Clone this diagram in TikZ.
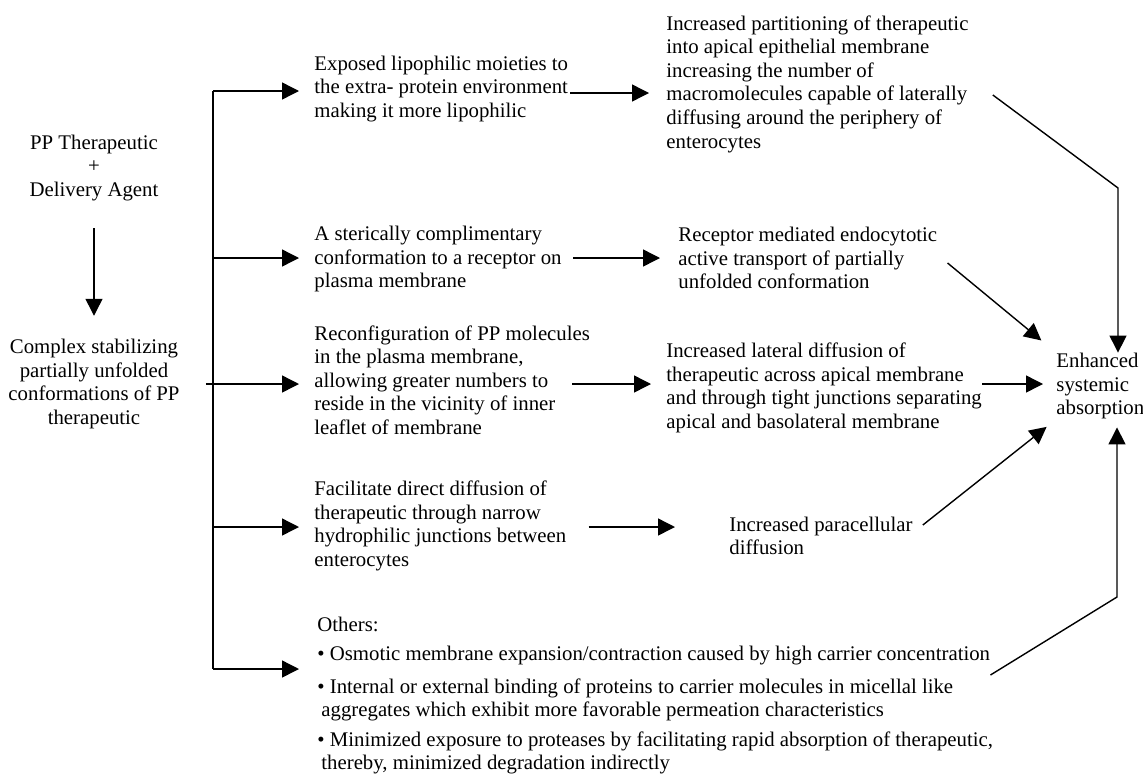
\documentclass[tikz,border=0pt]{standalone}
\usepackage{fontspec}
\setmainfont{Liberation Serif}
\usetikzlibrary{arrows.meta}

\begin{document}
\begin{tikzpicture}[x=0.5pt,y=0.5pt]
      \tikzstyle{every node}+=[inner sep=0pt, font=\fontsize{10.4}{11.8}\selectfont]
      \tikzstyle{txt}=[anchor=west, align=left]
      \tikzstyle{arr}=[black, line width=0.7pt, -{Triangle[length=8.5pt,width=8.5pt]}]
      \useasboundingbox (0,0) rectangle (1143,-776);
      % left column
      \node [align=center] (pp) at (94,-168) {PP Therapeutic\\+\\Delivery Agent};
      \node [align=center] (cx) at (94,-384) {Complex stabilizing\\partially unfolded\\conformations of PP\\therapeutic};
      \draw [arr, shorten <=13.5pt, shorten >=11.5pt] (pp.south) -- (cx.north);
      % trunk
      \coordinate (t1) at (213,-91);
      \coordinate (t2) at (213,-258);
      \coordinate (t3) at (213,-384);
      \coordinate (t4) at (213,-527);
      \coordinate (t5) at (213,-669);
      \draw [black, line width=0.7pt] (t1) -- (t5);
      % first step
      \node [txt] (lip) at (314,-89) {Exposed lipophilic moieties to\\the extra- protein environment\\making it more lipophilic};
      \node [txt] (rec) at (314,-259) {A sterically complimentary\\conformation to a receptor on\\plasma membrane};
      \node [txt] (conf) at (314,-380) {Reconfiguration of PP molecules\\in the plasma membrane,\\allowing greater numbers to\\reside in the vicinity of inner\\leaflet of membrane};
      \node [txt] (dif) at (314,-526) {Facilitate direct diffusion of\\therapeutic through narrow\\hydrophilic junctions between\\enterocytes};
      \node [txt] (oth) at (317,-624) {Others:};
      \node [txt] (osm) at (317,-656) {\textbullet\ Osmotic membrane expansion/contraction caused by high carrier concentration};
      \node [txt] (bind) at (317,-700) {\textbullet\ Internal or external binding of proteins to carrier molecules in micellal like\\\hspace{2pt}aggregates which exhibit more favorable permeation characteristics};
      \node [txt] (prot) at (317,-753) {\textbullet\ Minimized exposure to proteases by facilitating rapid absorption of therapeutic,\\\hspace{2pt}thereby, minimized degradation indirectly};
      \draw [arr, shorten >=7.5pt] (t1) -- (lip.west |- t1);
      \draw [arr, shorten >=7.5pt] (t2) -- (rec.west |- t2);
      \draw [arr, shorten <=13pt, shorten >=7.5pt] (cx.east |- t3) -- (conf.west |- t3);
      \draw [arr, shorten >=7.5pt] (t4) -- (dif.west |- t4);
      \draw [arr, shorten >=9pt] (t5) -- (osm.west |- t5);
      % second step
      \node [txt] (part) at (666,-84) {Increased partitioning of therapeutic\\into apical epithelial membrane\\increasing the number of\\macromolecules capable of laterally\\diffusing around the periphery of\\enterocytes};
      \node [txt] (endo) at (678,-258) {Receptor mediated endocytotic\\active transport of partially\\unfolded conformation};
      \node [txt] (lat) at (666,-388) {Increased lateral diffusion of\\therapeutic across apical membrane\\and through tight junctions separating\\apical and basolateral membrane};
      \node [txt] (para) at (729,-536) {Increased paracellular\\diffusion};
      \draw [arr, shorten <=1pt, shorten >=8.5pt] (lip.east |- 0,-93) -- (part.west |- 0,-93);
      \draw [arr, shorten <=5.5pt, shorten >=9pt] (rec.east |- t2) -- (endo.west |- t2);
      \draw [arr, shorten <=-9pt, shorten >=7.5pt] (conf.east |- t3) -- (lat.west |- t3);
      \draw [arr, shorten <=11pt, shorten >=27pt] (dif.east |- t4) -- (para.west |- t4);
      % result
      \node [txt] (abs) at (1056,-386) {Enhanced\\systemic\\absorption};
      \coordinate (c1) at (1118,-188);
      \coordinate (c2) at (1117,-597);
      \draw [arr] ([shift={(24,-11)}]part.east) -- (c1) -- (c1 |- abs.north);
      \draw [arr, shorten >=9.5pt] ([shift={(10,-5)}]endo.east) -- (abs.north west);
      \draw [arr, shorten >=6.5pt] (lat.east |- t3) -- (abs.west |- t3);
      \draw [arr, shorten >=6pt] ([shift={(10,11)}]para.east) -- (abs.south west);
      \draw [arr, shorten >=4pt] ([shift={(0,-19)}]osm.east) -- (c2) -- (c2 |- abs.south);
\end{tikzpicture}
\end{document}
